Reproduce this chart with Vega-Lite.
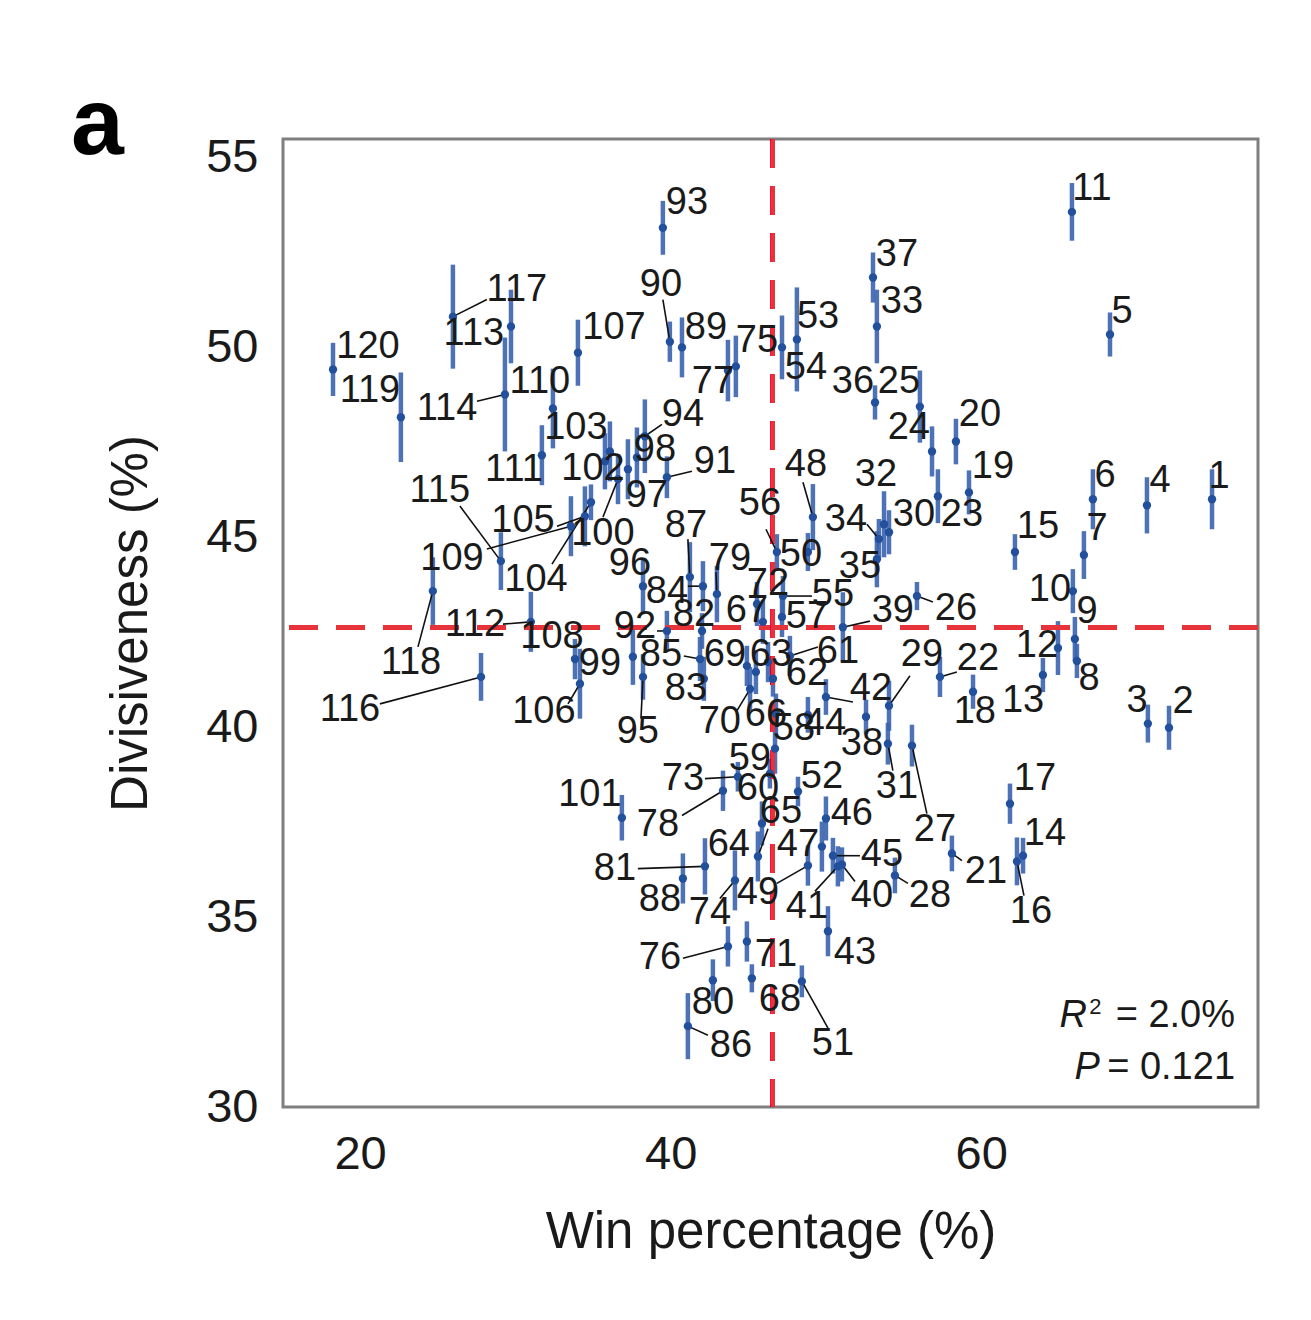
{
"$schema": "https://vega.github.io/schema/vega-lite/v6.json",
"width": 975, "height": 968,
"autosize": {"type": "none"},
"padding": {"left": 283, "top": 139, "right": 53, "bottom": 213},
"background": "white",
"config": {"view": {"stroke": "#7f7f7f", "strokeWidth": 3}, "font": "Liberation Sans",
  "axisX": {"domain": false, "ticks": false, "tickSize": 0, "grid": false, "labelFontSize": 47, "labelPadding": 24, "labelColor": "#1a1a1a", "labelFont": "Liberation Sans", "titleFont": "Liberation Sans", "titleFontSize": 51, "titleFontWeight": "normal", "titleColor": "#1a1a1a", "titlePadding": 30},
  "axisY": {"domain": false, "ticks": false, "tickSize": 0, "grid": false, "labelFontSize": 47, "labelPadding": 25, "labelColor": "#1a1a1a", "labelFont": "Liberation Sans", "titleFont": "Liberation Sans", "titleFontSize": 51, "titleFontWeight": "normal", "titleColor": "#1a1a1a", "titlePadding": 48}
},
"title": {"text": "a", "anchor": "start", "frame": "group", "fontSize": 95, "fontWeight": 900, "font": "Liberation Sans", "color": "#000000", "dx": -212, "offset": -115, "baseline": "alphabetic"},
"data": {"values": [
{"n":"1","x":74.86,"y":46.01,"lo":45.22,"hi":46.80,"lx":75.31,"ly":46.59},
{"n":"2","x":72.09,"y":39.99,"lo":39.41,"hi":40.57,"lx":72.99,"ly":40.67},
{"n":"3","x":70.73,"y":40.10,"lo":39.60,"hi":40.60,"lx":70.03,"ly":40.70},
{"n":"4","x":70.67,"y":45.85,"lo":45.11,"hi":46.59,"lx":71.51,"ly":46.48},
{"n":"5","x":68.29,"y":50.35,"lo":49.77,"hi":50.93,"lx":69.06,"ly":50.93},
{"n":"6","x":67.19,"y":46.01,"lo":45.22,"hi":46.80,"lx":67.97,"ly":46.61},
{"n":"7","x":66.61,"y":44.54,"lo":43.91,"hi":45.17,"lx":67.45,"ly":45.22},
{"n":"8","x":66.16,"y":41.75,"lo":41.30,"hi":42.20,"lx":66.94,"ly":41.28},
{"n":"9","x":66.03,"y":42.33,"lo":41.75,"hi":42.91,"lx":66.81,"ly":43.04},
{"n":"10","x":65.90,"y":43.59,"lo":43.01,"hi":44.17,"lx":64.42,"ly":43.62},
{"n":"11","x":65.84,"y":53.58,"lo":52.82,"hi":54.34,"lx":67.13,"ly":54.19},
{"n":"12","x":64.94,"y":42.09,"lo":41.38,"hi":42.80,"lx":63.59,"ly":42.15},
{"n":"13","x":63.97,"y":41.38,"lo":40.93,"hi":41.83,"lx":62.69,"ly":40.70},
{"n":"14","x":62.69,"y":36.62,"lo":36.15,"hi":37.09,"lx":64.10,"ly":37.20},
{"n":"15","x":62.17,"y":44.62,"lo":44.15,"hi":45.09,"lx":63.65,"ly":45.27},
{"n":"16","x":62.30,"y":36.47,"lo":35.84,"hi":37.10,"lx":63.20,"ly":35.13,"ex":62.75,"ey":35.57},
{"n":"17","x":61.85,"y":37.99,"lo":37.46,"hi":38.52,"lx":63.46,"ly":38.65},
{"n":"18","x":59.47,"y":40.94,"lo":40.49,"hi":41.39,"lx":59.59,"ly":40.41},
{"n":"19","x":59.21,"y":46.19,"lo":45.61,"hi":46.77,"lx":60.75,"ly":46.85},
{"n":"20","x":58.37,"y":47.53,"lo":46.93,"hi":48.13,"lx":59.92,"ly":48.22},
{"n":"21","x":58.11,"y":36.68,"lo":36.21,"hi":37.15,"lx":60.30,"ly":36.20,"ex":58.76,"ey":36.49},
{"n":"22","x":57.34,"y":41.33,"lo":40.80,"hi":41.86,"lx":59.79,"ly":41.80,"ex":58.43,"ey":41.46},
{"n":"23","x":57.21,"y":46.09,"lo":45.38,"hi":46.80,"lx":58.76,"ly":45.59},
{"n":"24","x":56.83,"y":47.27,"lo":46.61,"hi":47.93,"lx":55.34,"ly":47.88},
{"n":"25","x":56.05,"y":48.45,"lo":47.50,"hi":49.40,"lx":54.70,"ly":49.11},
{"n":"26","x":55.86,"y":43.46,"lo":43.09,"hi":43.83,"lx":58.37,"ly":43.12,"ex":56.89,"ey":43.30},
{"n":"27","x":55.54,"y":39.52,"lo":38.97,"hi":40.07,"lx":57.02,"ly":37.31,"ex":56.50,"ey":37.73},
{"n":"28","x":54.44,"y":36.10,"lo":35.63,"hi":36.57,"lx":56.70,"ly":35.55,"ex":55.28,"ey":35.89},
{"n":"29","x":54.06,"y":40.57,"lo":39.91,"hi":41.23,"lx":56.18,"ly":41.91,"ex":55.41,"ey":41.36},
{"n":"30","x":54.06,"y":45.14,"lo":44.56,"hi":45.72,"lx":55.67,"ly":45.59},
{"n":"31","x":53.99,"y":39.57,"lo":39.02,"hi":40.12,"lx":54.57,"ly":38.44,"ex":54.31,"ey":38.86},
{"n":"32","x":53.74,"y":45.35,"lo":44.48,"hi":46.22,"lx":53.22,"ly":46.64},
{"n":"33","x":53.28,"y":50.56,"lo":49.59,"hi":51.53,"lx":54.89,"ly":51.21},
{"n":"34","x":53.41,"y":44.96,"lo":44.43,"hi":45.49,"lx":51.29,"ly":45.46,"ex":52.64,"ey":45.35},
{"n":"35","x":53.28,"y":44.43,"lo":43.69,"hi":45.17,"lx":52.19,"ly":44.22},
{"n":"36","x":53.16,"y":48.56,"lo":48.11,"hi":49.01,"lx":51.74,"ly":49.11},
{"n":"37","x":53.03,"y":51.85,"lo":51.19,"hi":52.51,"lx":54.57,"ly":52.45},
{"n":"38","x":52.58,"y":40.28,"lo":39.83,"hi":40.73,"lx":52.32,"ly":39.57},
{"n":"39","x":51.09,"y":42.64,"lo":41.72,"hi":43.56,"lx":54.31,"ly":43.07,"ex":52.83,"ey":42.80},
{"n":"40","x":51.03,"y":36.39,"lo":35.94,"hi":36.84,"lx":52.96,"ly":35.55,"ex":51.87,"ey":35.94},
{"n":"41","x":50.77,"y":36.34,"lo":35.81,"hi":36.87,"lx":48.78,"ly":35.26,"ex":49.29,"ey":35.68},
{"n":"42","x":50.00,"y":40.80,"lo":40.33,"hi":41.27,"lx":52.90,"ly":41.01,"ex":51.74,"ey":40.67},
{"n":"43","x":50.13,"y":34.63,"lo":33.97,"hi":35.29,"lx":51.87,"ly":34.05},
{"n":"44","x":48.84,"y":40.33,"lo":39.86,"hi":40.80,"lx":49.94,"ly":40.09},
{"n":"45","x":50.45,"y":36.62,"lo":36.15,"hi":37.09,"lx":53.61,"ly":36.65,"ex":52.19,"ey":36.62},
{"n":"46","x":50.00,"y":37.60,"lo":37.02,"hi":38.18,"lx":51.67,"ly":37.73},
{"n":"47","x":49.74,"y":36.86,"lo":36.20,"hi":37.52,"lx":48.20,"ly":36.91},
{"n":"48","x":49.16,"y":45.54,"lo":44.67,"hi":46.41,"lx":48.71,"ly":46.90,"ex":48.52,"ey":46.46},
{"n":"49","x":48.84,"y":36.36,"lo":35.83,"hi":36.89,"lx":45.62,"ly":35.63,"ex":46.84,"ey":35.89},
{"n":"50","x":48.84,"y":44.62,"lo":44.12,"hi":45.12,"lx":48.39,"ly":44.54},
{"n":"51","x":48.45,"y":33.31,"lo":32.89,"hi":33.73,"lx":50.45,"ly":31.66,"ex":50.13,"ey":32.08},
{"n":"52","x":48.20,"y":38.31,"lo":37.92,"hi":38.70,"lx":49.74,"ly":38.70},
{"n":"53","x":48.13,"y":50.22,"lo":48.85,"hi":51.59,"lx":49.49,"ly":50.82},
{"n":"54","x":47.17,"y":50.01,"lo":49.17,"hi":50.85,"lx":48.71,"ly":49.48},
{"n":"55","x":47.23,"y":43.46,"lo":42.93,"hi":43.99,"lx":50.45,"ly":43.49,"ex":49.10,"ey":43.46},
{"n":"56","x":46.84,"y":44.62,"lo":44.15,"hi":45.09,"lx":45.75,"ly":45.88,"ex":46.14,"ey":45.22},
{"n":"57","x":47.17,"y":42.91,"lo":42.38,"hi":43.44,"lx":48.78,"ly":42.91},
{"n":"58","x":46.78,"y":40.36,"lo":39.83,"hi":40.89,"lx":47.94,"ly":39.96},
{"n":"59","x":46.72,"y":39.44,"lo":38.78,"hi":40.10,"lx":45.11,"ly":39.17},
{"n":"60","x":46.39,"y":38.78,"lo":38.39,"hi":39.17,"lx":45.62,"ly":38.39},
{"n":"61","x":47.68,"y":41.88,"lo":41.35,"hi":42.41,"lx":50.77,"ly":41.99,"ex":49.48,"ey":42.12},
{"n":"62","x":46.59,"y":41.28,"lo":40.81,"hi":41.75,"lx":48.78,"ly":41.41},
{"n":"63","x":46.27,"y":41.72,"lo":41.19,"hi":42.25,"lx":46.46,"ly":41.91},
{"n":"64","x":45.88,"y":37.47,"lo":36.89,"hi":38.05,"lx":43.75,"ly":36.91},
{"n":"65","x":45.62,"y":36.60,"lo":35.94,"hi":37.26,"lx":47.10,"ly":37.78,"ex":46.27,"ey":37.33},
{"n":"66","x":45.49,"y":41.46,"lo":40.88,"hi":42.04,"lx":46.14,"ly":40.33},
{"n":"67","x":45.94,"y":42.78,"lo":42.20,"hi":43.36,"lx":44.91,"ly":43.07},
{"n":"68","x":45.23,"y":33.39,"lo":33.02,"hi":33.76,"lx":47.04,"ly":32.81},
{"n":"69","x":44.91,"y":41.62,"lo":41.09,"hi":42.15,"lx":43.50,"ly":41.91},
{"n":"70","x":45.11,"y":41.01,"lo":40.43,"hi":41.59,"lx":43.17,"ly":40.15,"ex":44.27,"ey":40.44},
{"n":"71","x":44.91,"y":34.36,"lo":33.83,"hi":34.89,"lx":46.78,"ly":34.00},
{"n":"72","x":45.56,"y":43.25,"lo":42.67,"hi":43.83,"lx":46.27,"ly":43.78},
{"n":"73","x":44.33,"y":38.70,"lo":38.31,"hi":39.09,"lx":40.79,"ly":38.65,"ex":42.21,"ey":38.65},
{"n":"74","x":44.14,"y":35.97,"lo":35.18,"hi":36.76,"lx":42.53,"ly":35.10,"ex":43.17,"ey":35.49},
{"n":"75","x":44.20,"y":49.51,"lo":48.70,"hi":50.32,"lx":45.56,"ly":50.19},
{"n":"76","x":43.69,"y":34.23,"lo":33.70,"hi":34.76,"lx":39.31,"ly":33.92,"ex":40.79,"ey":33.92},
{"n":"77","x":43.69,"y":49.40,"lo":48.59,"hi":50.21,"lx":42.72,"ly":49.09},
{"n":"78","x":43.37,"y":38.33,"lo":37.80,"hi":38.86,"lx":39.18,"ly":37.44,"ex":40.73,"ey":37.68},
{"n":"79","x":42.98,"y":43.51,"lo":42.77,"hi":44.25,"lx":43.82,"ly":44.43,"ex":42.92,"ey":44.09},
{"n":"80","x":42.72,"y":33.34,"lo":32.79,"hi":33.89,"lx":42.72,"ly":32.73},
{"n":"81","x":42.21,"y":36.34,"lo":35.60,"hi":37.08,"lx":36.41,"ly":36.26,"ex":37.89,"ey":36.28},
{"n":"82","x":42.02,"y":42.54,"lo":42.07,"hi":43.01,"lx":41.50,"ly":42.96},
{"n":"83","x":42.14,"y":41.28,"lo":40.70,"hi":41.86,"lx":40.99,"ly":41.01},
{"n":"84","x":42.08,"y":43.72,"lo":43.06,"hi":44.38,"lx":39.76,"ly":43.56,"ex":41.11,"ey":43.72},
{"n":"85","x":41.89,"y":41.80,"lo":41.22,"hi":42.38,"lx":39.38,"ly":41.91,"ex":40.85,"ey":41.88},
{"n":"86","x":41.11,"y":32.13,"lo":31.26,"hi":33.00,"lx":43.88,"ly":31.60,"ex":42.40,"ey":31.89},
{"n":"87","x":41.24,"y":43.96,"lo":43.04,"hi":44.88,"lx":40.99,"ly":45.30,"ex":41.11,"ey":44.96},
{"n":"88","x":40.79,"y":36.02,"lo":35.36,"hi":36.68,"lx":39.31,"ly":35.44},
{"n":"89","x":40.73,"y":50.01,"lo":49.22,"hi":50.80,"lx":42.27,"ly":50.53},
{"n":"90","x":39.95,"y":50.16,"lo":49.63,"hi":50.69,"lx":39.38,"ly":51.66,"ex":39.50,"ey":51.27},
{"n":"91","x":39.76,"y":46.59,"lo":46.04,"hi":47.14,"lx":42.85,"ly":46.98,"ex":41.37,"ey":46.75},
{"n":"92","x":39.76,"y":42.54,"lo":42.01,"hi":43.07,"lx":37.70,"ly":42.64,"ex":39.12,"ey":42.54},
{"n":"93","x":39.50,"y":53.16,"lo":52.45,"hi":53.87,"lx":41.05,"ly":53.82},
{"n":"94","x":38.34,"y":47.67,"lo":46.70,"hi":48.64,"lx":40.79,"ly":48.22,"ex":39.44,"ey":47.98},
{"n":"95","x":38.22,"y":41.33,"lo":40.73,"hi":41.93,"lx":37.89,"ly":39.88,"ex":38.09,"ey":40.23},
{"n":"96","x":38.22,"y":43.72,"lo":42.98,"hi":44.46,"lx":37.38,"ly":44.30},
{"n":"97","x":37.25,"y":46.80,"lo":46.01,"hi":47.59,"lx":38.47,"ly":46.09},
{"n":"98","x":37.83,"y":47.11,"lo":46.32,"hi":47.90,"lx":38.99,"ly":47.32},
{"n":"99","x":37.57,"y":41.86,"lo":41.12,"hi":42.60,"lx":35.45,"ly":41.67},
{"n":"100","x":36.61,"y":46.54,"lo":45.88,"hi":47.20,"lx":35.64,"ly":45.09,"ex":35.64,"ey":45.54},
{"n":"101","x":36.86,"y":37.62,"lo":37.02,"hi":38.22,"lx":34.80,"ly":38.23},
{"n":"102","x":36.09,"y":47.27,"lo":46.48,"hi":48.06,"lx":35.00,"ly":46.80},
{"n":"103","x":35.77,"y":47.01,"lo":46.27,"hi":47.75,"lx":33.90,"ly":47.90},
{"n":"104","x":34.87,"y":45.93,"lo":45.46,"hi":46.40,"lx":31.33,"ly":43.88,"ex":32.36,"ey":44.30},
{"n":"105","x":34.48,"y":45.56,"lo":44.77,"hi":46.35,"lx":30.49,"ly":45.43,"ex":32.68,"ey":45.30},
{"n":"106","x":34.16,"y":41.15,"lo":40.23,"hi":42.07,"lx":31.84,"ly":40.41,"ex":33.39,"ey":40.62},
{"n":"107","x":34.03,"y":49.87,"lo":49.00,"hi":50.74,"lx":36.35,"ly":50.53},
{"n":"108","x":33.84,"y":41.80,"lo":41.27,"hi":42.33,"lx":32.36,"ly":42.38},
{"n":"109","x":33.58,"y":45.30,"lo":44.51,"hi":46.09,"lx":25.92,"ly":44.43,"ex":28.17,"ey":44.70},
{"n":"110","x":32.42,"y":48.40,"lo":47.35,"hi":49.45,"lx":31.58,"ly":49.09},
{"n":"111","x":31.71,"y":47.17,"lo":46.38,"hi":47.96,"lx":29.91,"ly":46.77},
{"n":"112","x":31.00,"y":42.78,"lo":41.99,"hi":43.57,"lx":27.40,"ly":42.70,"ex":29.20,"ey":42.72},
{"n":"113","x":29.72,"y":50.56,"lo":49.59,"hi":51.53,"lx":27.33,"ly":50.35},
{"n":"114","x":29.33,"y":48.77,"lo":47.27,"hi":50.27,"lx":25.60,"ly":48.40,"ex":27.53,"ey":48.59},
{"n":"115","x":29.07,"y":44.38,"lo":43.62,"hi":45.14,"lx":25.14,"ly":46.22,"ex":26.43,"ey":45.83},
{"n":"116","x":27.79,"y":41.33,"lo":40.70,"hi":41.96,"lx":19.35,"ly":40.46,"ex":21.28,"ey":40.62},
{"n":"117","x":25.98,"y":50.82,"lo":49.45,"hi":52.19,"lx":30.10,"ly":51.53,"ex":28.17,"ey":51.27},
{"n":"118","x":24.69,"y":43.59,"lo":42.70,"hi":44.48,"lx":23.28,"ly":41.70,"ex":23.73,"ey":42.12},
{"n":"119","x":22.63,"y":48.17,"lo":46.99,"hi":49.35,"lx":20.64,"ly":48.85},
{"n":"120","x":18.26,"y":49.43,"lo":48.73,"hi":50.13,"lx":20.51,"ly":50.01}
]},
"layer": [
{"mark": {"type": "rule", "color": "#3a64ae", "strokeWidth": 4.5, "opacity": 0.9},
 "encoding": {"x": {"field": "x", "type": "quantitative", "title": "Win percentage (%)", "scale": {"domain": [15.04, 77.82], "nice": false, "zero": false}, "axis": {"values": [20, 40, 60]}},
   "y": {"field": "lo", "type": "quantitative", "title": "Divisiveness (%)", "scale": {"domain": [30, 55.5], "nice": false, "zero": false}, "axis": {"values": [30, 35, 40, 45, 50, 55]}},
   "y2": {"field": "hi"}}},
{"mark": {"type": "rule", "color": "#e8333b", "strokeWidth": 4, "strokeDash": [29, 18]},
 "encoding": {"y": {"datum": 42.64, "type": "quantitative", "title": "Divisiveness (%)", "axis": {"values": [30, 35, 40, 45, 50, 55]}}}},
{"mark": {"type": "rule", "color": "#e8333b", "strokeWidth": 4, "strokeDash": [29, 18]},
 "encoding": {"x": {"datum": 46.59, "type": "quantitative", "title": "Win percentage (%)", "axis": {"values": [20, 40, 60]}}}},
{"transform": [{"filter": "isValid(datum.ex)"}],
 "mark": {"type": "rule", "color": "#111111", "strokeWidth": 1.6},
 "encoding": {"x": {"field": "x", "type": "quantitative", "title": "Win percentage (%)", "axis": {"values": [20, 40, 60]}},
   "y": {"field": "y", "type": "quantitative", "title": "Divisiveness (%)", "axis": {"values": [30, 35, 40, 45, 50, 55]}},
   "x2": {"field": "ex"}, "y2": {"field": "ey"}}},
{"mark": {"type": "point", "filled": true, "shape": "circle", "size": 70, "color": "#23509c", "opacity": 1},
 "encoding": {"x": {"field": "x", "type": "quantitative", "title": "Win percentage (%)", "axis": {"values": [20, 40, 60]}},
   "y": {"field": "y", "type": "quantitative", "title": "Divisiveness (%)", "axis": {"values": [30, 35, 40, 45, 50, 55]}}}},
{"mark": {"type": "text", "fontSize": 38, "font": "Liberation Sans", "color": "#1a1a1a", "align": "center", "baseline": "middle"},
 "encoding": {"x": {"field": "lx", "type": "quantitative", "title": "Win percentage (%)", "axis": {"values": [20, 40, 60]}},
   "y": {"field": "ly", "type": "quantitative", "title": "Divisiveness (%)", "axis": {"values": [30, 35, 40, 45, 50, 55]}},
   "text": {"field": "n"}}},
{"data": {"values": [{"t": "= 2.0%", "ax": 76.34, "ay": 32.39}, {"t": "= 0.121", "ax": 76.34, "ay": 31.03}]},
 "mark": {"type": "text", "fontSize": 38, "font": "Liberation Sans", "color": "#1a1a1a", "align": "right", "baseline": "middle"},
 "encoding": {"x": {"field": "ax", "type": "quantitative", "title": "Win percentage (%)", "axis": {"values": [20, 40, 60]}},
   "y": {"field": "ay", "type": "quantitative", "title": "Divisiveness (%)", "axis": {"values": [30, 35, 40, 45, 50, 55]}},
   "text": {"field": "t"}}},
{"data": {"values": [{"t": "R", "ax": 66.81, "ay": 32.39}, {"t": "P", "ax": 67.64, "ay": 31.03}]},
 "mark": {"type": "text", "fontSize": 38, "font": "Liberation Sans", "fontStyle": "italic", "color": "#1a1a1a", "align": "right", "baseline": "middle"},
 "encoding": {"x": {"field": "ax", "type": "quantitative", "title": "Win percentage (%)", "axis": {"values": [20, 40, 60]}},
   "y": {"field": "ay", "type": "quantitative", "title": "Divisiveness (%)", "axis": {"values": [30, 35, 40, 45, 50, 55]}},
   "text": {"field": "t"}}},
{"data": {"values": [{"t": "2", "ax": 66.95, "ay": 32.63}]},
 "mark": {"type": "text", "fontSize": 22, "font": "Liberation Sans", "color": "#1a1a1a", "align": "left", "baseline": "middle"},
 "encoding": {"x": {"field": "ax", "type": "quantitative", "title": "Win percentage (%)", "axis": {"values": [20, 40, 60]}},
   "y": {"field": "ay", "type": "quantitative", "title": "Divisiveness (%)", "axis": {"values": [30, 35, 40, 45, 50, 55]}},
   "text": {"field": "t"}}}
]
}
